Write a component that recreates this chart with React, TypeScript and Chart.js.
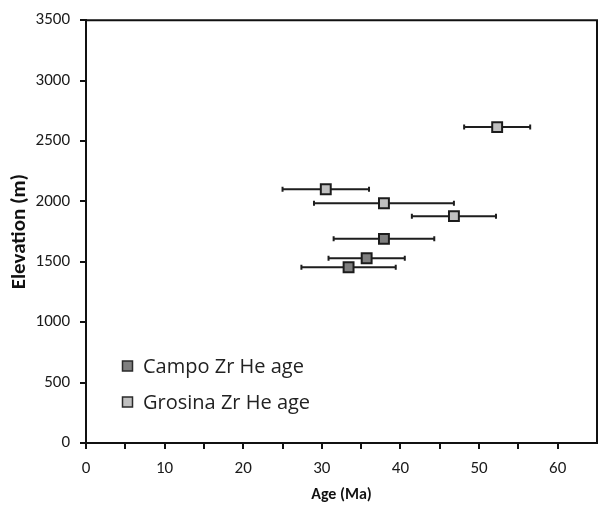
import { useEffect, useRef } from "react";
import { Chart, registerables } from "chart.js";

Chart.register(...registerables);

// Zircon (U-Th)/He ages with 1-sigma errors (Ma) against sample elevation (m)
const campoLabel = "Campo Zr He age";
const campoAge = [37.9, 35.7, 33.4];
const campoErr = [6.4, 4.85, 6.0];
const campoElev = [1690, 1530, 1455];

const grosinaLabel = "Grosina Zr He age";
const grosinaAge = [52.3, 30.5, 37.9, 46.8];
const grosinaErr = [4.2, 5.5, 8.9, 5.35];
const grosinaElev = [2615, 2100, 1985, 1878];

const xTitle = "Age (Ma)";
const yTitle = "Elevation (m)";

const TICK_FONT = "Carlito, Lato, sans-serif";
const LEGEND_FONT = "'Open Sans', sans-serif";

type Pt = { x: number; y: number; err: number };

const toPoints = (age: number[], err: number[], elev: number[]): Pt[] =>
  age.map((a, i) => ({ x: a, y: elev[i], err: err[i] }));

// horizontal error bars with end caps, drawn under the markers
const errorBars = {
  id: "errorBars",
  beforeDatasetsDraw(chart: any) {
    const { ctx } = chart;
    const xs = chart.scales.x;
    const ys = chart.scales.y;
    ctx.save();
    ctx.strokeStyle = "#1e1e1e";
    ctx.lineWidth = 2;
    chart.data.datasets.forEach((ds: any) => {
      ds.data.forEach((p: Pt) => {
        const x0 = xs.getPixelForValue(p.x - p.err);
        const x1 = xs.getPixelForValue(p.x + p.err);
        const py = ys.getPixelForValue(p.y);
        ctx.beginPath();
        ctx.moveTo(x0, py);
        ctx.lineTo(x1, py);
        ctx.moveTo(x0, py - 2.5);
        ctx.lineTo(x0, py + 2.5);
        ctx.moveTo(x1, py - 2.5);
        ctx.lineTo(x1, py + 2.5);
        ctx.stroke();
      });
    });
    ctx.restore();
  },
};

// top and right edges of the plot box
const frame = {
  id: "frame",
  beforeDatasetsDraw(chart: any) {
    const { ctx, chartArea: a } = chart;
    ctx.save();
    ctx.strokeStyle = "#111";
    ctx.lineWidth = 2;
    ctx.beginPath();
    ctx.moveTo(a.left, a.top);
    ctx.lineTo(a.right, a.top);
    ctx.lineTo(a.right, a.bottom);
    ctx.stroke();
    ctx.restore();
  },
};

// legend placed inside the lower-left corner of the plot
const innerLegend = {
  id: "innerLegend",
  afterDatasetsDraw(chart: any) {
    const { ctx, chartArea: a } = chart;
    ctx.save();
    ctx.font = `400 20px ${LEGEND_FONT}`;
    ctx.textBaseline = "middle";
    ctx.textAlign = "left";
    chart.data.datasets.forEach((ds: any, i: number) => {
      const cx = a.left + 41.5;
      const cy = a.bottom - 77 + i * 36;
      ctx.fillStyle = ds.backgroundColor;
      ctx.strokeStyle = "#2a2a2a";
      ctx.lineWidth = 1.5;
      ctx.beginPath();
      ctx.rect(cx - 5, cy - 5, 10, 10);
      ctx.fill();
      ctx.stroke();
      ctx.fillStyle = "#222";
      ctx.fillText(ds.label, a.left + 57, cy + 1);
    });
    ctx.restore();
  },
};

export default function App() {
  const ref = useRef<HTMLCanvasElement | null>(null);

  useEffect(() => {
    if (!ref.current) return;
    const chart = new Chart(ref.current, {
      type: "scatter",
      data: {
        datasets: [
          {
            label: campoLabel,
            data: toPoints(campoAge, campoErr, campoElev),
            backgroundColor: "#7f7f7f",
            borderColor: "#1c1c1c",
            borderWidth: 2,
            pointStyle: "rect",
            pointRadius: 7,
            pointHoverRadius: 7,
          },
          {
            label: grosinaLabel,
            data: toPoints(grosinaAge, grosinaErr, grosinaElev),
            backgroundColor: "#c0c0c0",
            borderColor: "#1c1c1c",
            borderWidth: 2,
            pointStyle: "rect",
            pointRadius: 7,
            pointHoverRadius: 7,
          },
        ],
      },
      options: {
        animation: false,
        responsive: true,
        maintainAspectRatio: false,
        layout: { padding: { left: 0, top: 15, right: 13, bottom: 0 } },
        plugins: {
          legend: { display: false },
          tooltip: { enabled: false },
        },
        scales: {
          x: {
            type: "linear",
            min: 0,
            max: 65,
            afterFit: (s: any) => {
              s.height = 71;
            },
            afterBuildTicks: (s: any) => {
              s.ticks = s.ticks.filter((t: any) => t.value <= 60);
            },
            border: { display: true, color: "#111", width: 2 },
            grid: {
              drawOnChartArea: false,
              drawTicks: true,
              tickLength: 6,
              color: "#111",
              lineWidth: 2,
            },
            ticks: {
              stepSize: 5,
              autoSkip: false,
              maxRotation: 0,
              padding: 10,
              color: "#1a1a1a",
              font: { family: TICK_FONT, size: 17 },
              callback: (v: any) => (Number(v) % 10 === 0 ? String(v) : ""),
            },
            title: {
              display: true,
              text: xTitle,
              color: "#111",
              font: { family: TICK_FONT, size: 16, weight: "bold" },
              padding: { top: 0, bottom: 9 },
            },
          },
          y: {
            type: "linear",
            min: 0,
            max: 3500,
            afterFit: (s: any) => {
              s.width = 86;
            },
            border: { display: true, color: "#111", width: 2 },
            grid: {
              drawOnChartArea: false,
              drawTicks: true,
              tickLength: 6,
              color: "#111",
              lineWidth: 2,
            },
            ticks: {
              stepSize: 500,
              padding: 10,
              color: "#1a1a1a",
              font: { family: TICK_FONT, size: 17 },
              callback: (v: any) => String(v),
            },
            title: {
              display: true,
              text: yTitle,
              color: "#111",
              font: { family: TICK_FONT, size: 21, weight: "bold" },
              padding: { top: 7, bottom: 0 },
            },
          },
        },
      },
      plugins: [frame, errorBars, innerLegend],
    });
    return () => chart.destroy();
  }, []);

  return (
    <div style={{ position: "fixed", left: 0, top: 0, width: 610, height: 514, background: "#fff" }}>
      <canvas ref={ref} />
    </div>
  );
}
